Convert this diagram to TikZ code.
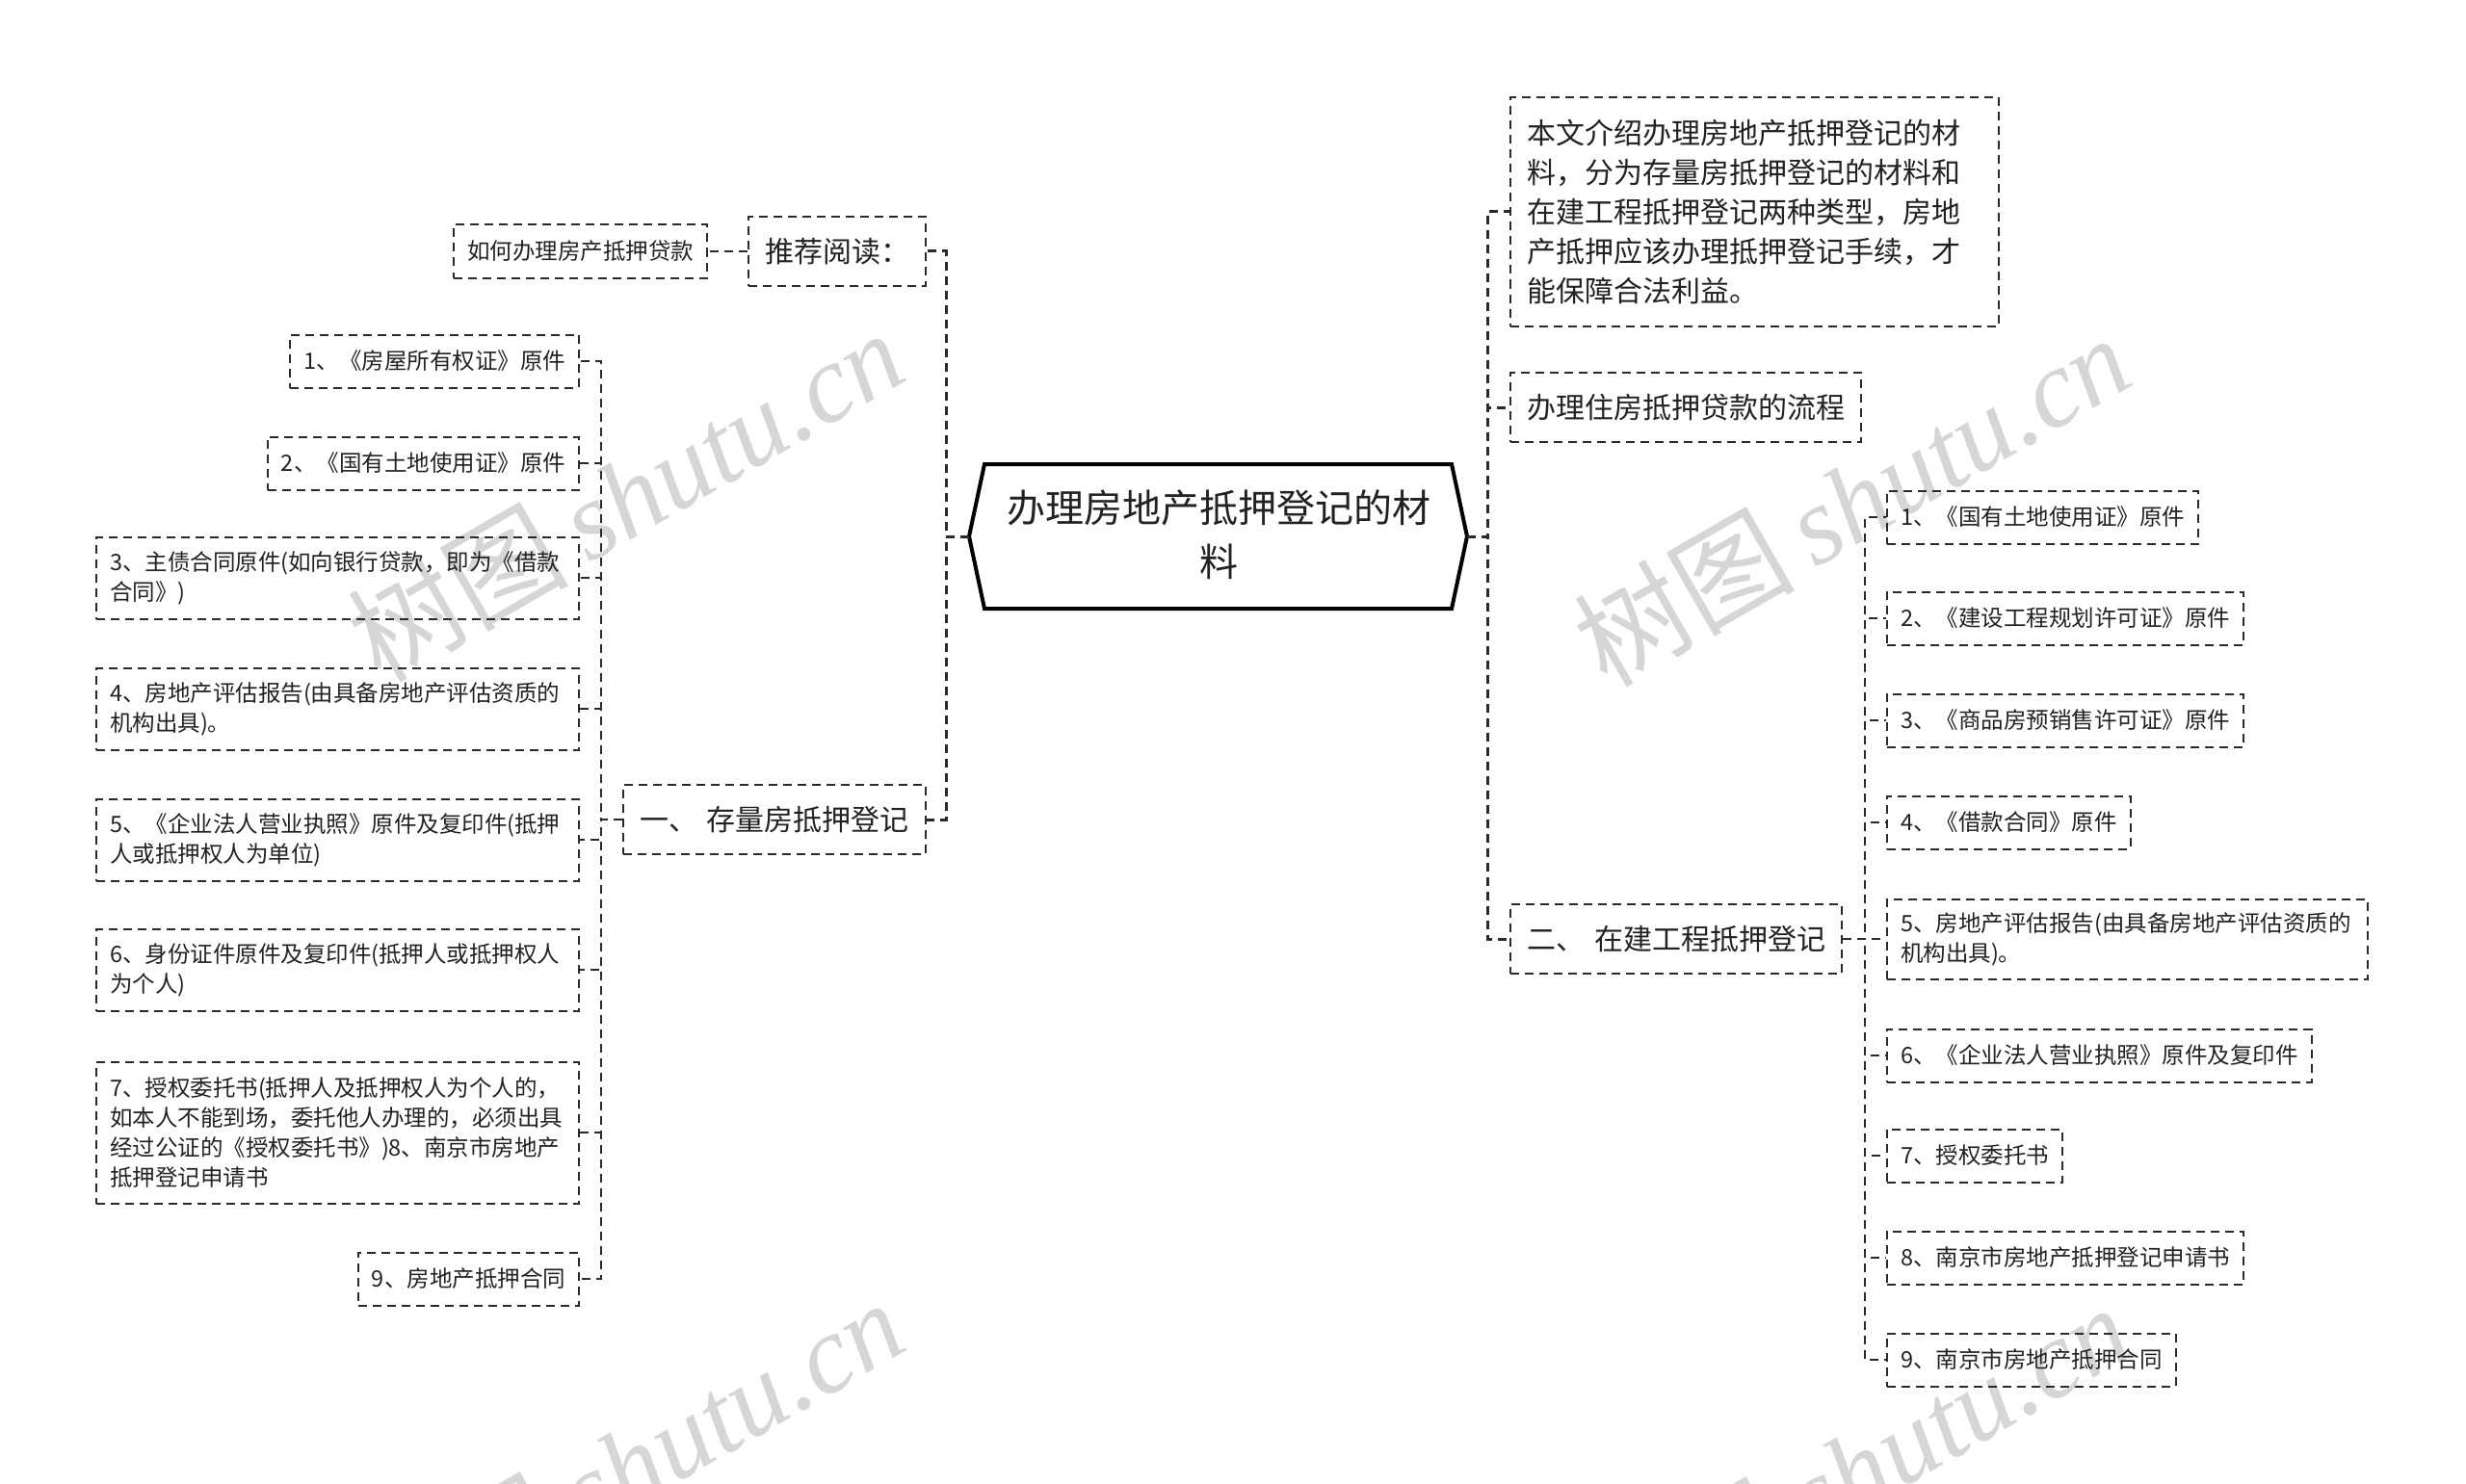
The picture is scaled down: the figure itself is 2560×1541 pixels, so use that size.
\documentclass[tikz,border=0pt]{standalone}
\usepackage{fontspec}
\setmainfont{Noto Sans CJK SC}
\newfontfamily\wmserif{Liberation Serif}
\definecolor{lc}{HTML}{2A2A2A}
\definecolor{tc}{HTML}{222222}
\definecolor{wmc}{HTML}{D6D6D6}
\begin{document}
\begin{tikzpicture}[x=1pt,y=-1pt,
  box/.style={draw=lc, line width=2pt, dash pattern=on 9pt off 6pt, rectangle,
    inner ysep=0pt, inner xsep=14pt, text=tc, align=left},
  small/.style={box, font=\fontsize{23.5}{31}\selectfont, minimum height=55pt},
  big/.style={box, font=\fontsize{30}{41}\selectfont, inner xsep=17pt, minimum height=72pt},
  trunk/.style={draw=lc, line width=3pt, dash pattern=on 9pt off 6pt},
  twig/.style={draw=lc, line width=2pt, dash pattern=on 9pt off 6pt},
  wm/.style={text=wmc, font=\fontsize{115}{115}\selectfont, rotate=30, inner sep=0pt},
  roottext/.style={text=tc, font=\fontsize{40}{56}\selectfont, align=center, inner sep=0pt}
]
\useasboundingbox (0,0) rectangle (2560,1541);
\fill[white] (0,0) rectangle (2560,1541);

% watermarks
\node[wm] (wm1) at (649,514) {树图\hspace{20pt}{\wmserif\itshape shutu.cn}};
\node[wm] (wm2) at (1922,519) {树图\hspace{20pt}{\wmserif\itshape shutu.cn}};
\node[wm] (wm3) at (649,1521) {树图\hspace{20pt}{\wmserif\itshape shutu.cn}};
\node[wm] (wm4) at (1922,1526) {树图\hspace{20pt}{\wmserif\itshape shutu.cn}};

% bus coordinates
\coordinate (busML) at (982,0);
\coordinate (busMR) at (1544,0);
\coordinate (busL) at (624,0);
\coordinate (busR) at (1936,0);

% root
\node[roottext] (root) at (1265,555) {办理房地产抵押登记的材\\料};
\coordinate (rootW) at (1006,557);
\coordinate (rootE) at (1523,557);
\draw[line width=4pt, draw=black, line join=miter] (rootW) -- (1022,482) -- (1507,482) -- (rootE) -- (1507,632) -- (1022,632) -- cycle;

% left side
\node[big, anchor=east] (tj) at (962,261) {推荐阅读：};
\node[small, anchor=east] (rd) at (735,261) {如何办理房产抵押贷款};
\node[big, anchor=east] (cl) at (962,851) {一、\hspace{10pt}存量房抵押登记};

\node[small, anchor=east] (L1) at (602,375) {1、《房屋所有权证》原件};
\node[small, anchor=east] (L2) at (602,481) {2、《国有土地使用证》原件};
\node[small, anchor=east, text width=473pt, minimum height=85pt] (L3) at (602,600) {3、主债合同原件(如向银行贷款，即为《借款\\合同》)};
\node[small, anchor=east, text width=473pt, minimum height=85pt] (L4) at (602,736) {4、房地产评估报告(由具备房地产评估资质的\\机构出具)。};
\node[small, anchor=east, text width=473pt, minimum height=85pt] (L5) at (602,872) {5、《企业法人营业执照》原件及复印件(抵押\\人或抵押权人为单位)};
\node[small, anchor=east, text width=473pt, minimum height=85pt] (L6) at (602,1007) {6、身份证件原件及复印件(抵押人或抵押权人\\为个人)};
\node[small, anchor=east, text width=473pt, minimum height=147pt] (L7) at (602,1176) {7、授权委托书(抵押人及抵押权人为个人的，\\如本人不能到场，委托他人办理的，必须出具\\经过公证的《授权委托书》)8、南京市房地产\\抵押登记申请书};
\node[small, anchor=east] (L9) at (602,1328) {9、房地产抵押合同};

% right side
\node[big, anchor=west, text width=473pt, minimum height=237pt] (intro) at (1567,220) {本文介绍办理房地产抵押登记的材\\料，分为存量房抵押登记的材料和\\在建工程抵押登记两种类型，房地\\产抵押应该办理抵押登记手续，才\\能保障合法利益。};
\node[big, anchor=west] (lc) at (1567,423) {办理住房抵押贷款的流程};
\node[big, anchor=west] (zj) at (1567,975) {二、\hspace{10pt}在建工程抵押登记};

\node[small, anchor=west] (R1) at (1958,537) {1、《国有土地使用证》原件};
\node[small, anchor=west] (R2) at (1958,642) {2、《建设工程规划许可证》原件};
\node[small, anchor=west] (R3) at (1958,748) {3、《商品房预销售许可证》原件};
\node[small, anchor=west] (R4) at (1958,854) {4、《借款合同》原件};
\node[small, anchor=west, text width=471pt, minimum height=83pt] (R5) at (1958,975) {5、房地产评估报告(由具备房地产评估资质的\\机构出具)。};
\node[small, anchor=west] (R6) at (1958,1096) {6、《企业法人营业执照》原件及复印件};
\node[small, anchor=west] (R7) at (1958,1200) {7、授权委托书};
\node[small, anchor=west] (R8) at (1958,1306) {8、南京市房地产抵押登记申请书};
\node[small, anchor=west] (R9) at (1958,1412) {9、南京市房地产抵押合同};

% connectors
\draw[trunk] (rootW) -- (rootW -| busML) |- (tj.east);
\draw[trunk] (rootW) -- (rootW -| busML) |- (cl.east);
\draw[twig] (tj.west) -- (rd.east);
\foreach \n in {L1,L2,L3,L4,L5,L6,L7,L9}
  \draw[twig] (cl.west) -- (cl.west -| busL) |- (\n.east);

\draw[trunk] (rootE) -- (rootE -| busMR) |- (intro.west);
\draw[trunk] (rootE) -- (rootE -| busMR) |- (lc.west);
\draw[trunk] (rootE) -- (rootE -| busMR) |- (zj.west);
\foreach \n in {R1,R2,R3,R4,R5,R6,R7,R8,R9}
  \draw[twig] (zj.east) -- (zj.east -| busR) |- (\n.west);
\end{tikzpicture}
\end{document}
